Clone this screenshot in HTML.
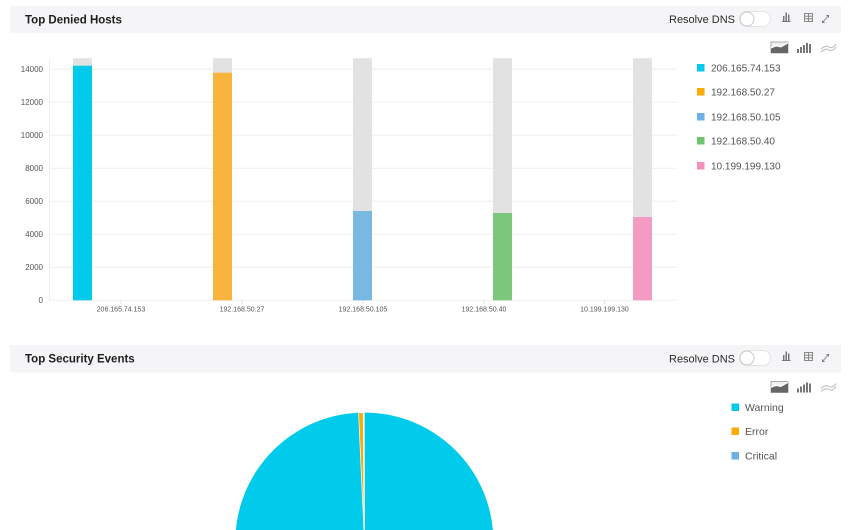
<!DOCTYPE html>
<html>
<head>
<meta charset="utf-8">
<style>
html,body{margin:0;padding:0;background:#fff;}
body{width:850px;height:530px;overflow:hidden;}
svg{display:block;}
text{font-family:"Liberation Sans",sans-serif;}
</style>
</head>
<body>
<svg width="850" height="530" viewBox="0 0 850 530" xmlns="http://www.w3.org/2000/svg">
  <!-- ===== Section 1 header ===== -->
  <rect x="10" y="6" width="831" height="27" fill="#f5f5f7"/>
  <text x="25" y="23.5" font-size="11.5" font-weight="bold" fill="#1e1e1e">Top Denied Hosts</text>
  <text x="669" y="23" font-size="11" fill="#2a2a2a">Resolve DNS</text>
  <rect x="739.5" y="11.5" width="31" height="15" rx="7.5" fill="#fff" stroke="#e4e4e4"/>
  <circle cx="747" cy="19" r="7" fill="#fff" stroke="#c8c8c8"/>
  <g fill="#777">
    <rect x="783" y="16" width="1.5" height="5"/>
    <rect x="785.5" y="12.5" width="1.5" height="8.5"/>
    <rect x="788" y="14.5" width="1.5" height="6.5"/>
    <rect x="782" y="21" width="8.5" height="1"/>
  </g>
  <g fill="none" stroke="#888" stroke-width="1">
    <rect x="804.5" y="13.5" width="8" height="8"/>
    <line x1="804.5" y1="16.2" x2="812.5" y2="16.2"/>
    <line x1="804.5" y1="18.8" x2="812.5" y2="18.8"/>
    <line x1="808.5" y1="13.5" x2="808.5" y2="21.5"/>
  </g>
  <g fill="#777">
    <polygon points="826,15 829,15 829,18"/>
    <polygon points="822,20 822,23 825,23"/>
    <line x1="823" y1="22" x2="828" y2="16" stroke="#999" stroke-width="1"/>
  </g>
  <g>
    <rect x="771" y="42" width="17" height="11" fill="#f0f0f0" stroke="#999" stroke-width="0.8"/>
    <polygon points="771,53 771,48 776,46 781,47 788,43 788,53" fill="#666"/>
    <polygon points="771,47 776,45 781,46 788,42 788,43.5 781,47.5 776,46.5 771,48.5" fill="#fff"/>
  </g>
  <g fill="#777">
    <rect x="797" y="49" width="2" height="4"/>
    <rect x="800" y="47" width="2" height="6"/>
    <rect x="803" y="45" width="2" height="8"/>
    <rect x="806" y="43" width="2" height="10"/>
    <rect x="809" y="44" width="2" height="9"/>
  </g>
  <g fill="none" stroke="#c4c4c4" stroke-width="1.2">
    <path d="M821,49 Q825,45 829,47 T836,44"/>
    <path d="M821,52 Q825,48 829,50 T836,47"/>
  </g>

  <!-- gridlines -->
  <g stroke="#efefef" stroke-width="1">
    <line x1="49" y1="300.3" x2="677" y2="300.3"/>
    <line x1="49" y1="267.3" x2="677" y2="267.3"/>
    <line x1="49" y1="234.3" x2="677" y2="234.3"/>
    <line x1="49" y1="201.3" x2="677" y2="201.3"/>
    <line x1="49" y1="168.3" x2="677" y2="168.3"/>
    <line x1="49" y1="135.3" x2="677" y2="135.3"/>
    <line x1="49" y1="102.3" x2="677" y2="102.3"/>
    <line x1="49" y1="69.3" x2="677" y2="69.3"/>
    <line x1="49.5" y1="58" x2="49.5" y2="300.3"/>
  </g>
  <g stroke="#e2e2e2" stroke-width="1">
    <line x1="121" y1="300.3" x2="121" y2="304"/>
    <line x1="242" y1="300.3" x2="242" y2="304"/>
    <line x1="363" y1="300.3" x2="363" y2="304"/>
    <line x1="484" y1="300.3" x2="484" y2="304"/>
    <line x1="604.5" y1="300.3" x2="604.5" y2="304"/>
  </g>
  <g font-size="8" fill="#555" text-anchor="end">
    <text x="43" y="303">0</text>
    <text x="43" y="270">2000</text>
    <text x="43" y="237">4000</text>
    <text x="43" y="204">6000</text>
    <text x="43" y="171">8000</text>
    <text x="43" y="138">10000</text>
    <text x="43" y="105">12000</text>
    <text x="43" y="72">14000</text>
  </g>
  <g fill="#e2e2e2">
    <rect x="73" y="58.3" width="19" height="242"/>
    <rect x="213" y="58.3" width="19" height="242"/>
    <rect x="353" y="58.3" width="19" height="242"/>
    <rect x="493" y="58.3" width="19" height="242"/>
    <rect x="633" y="58.3" width="19" height="242"/>
  </g>
  <rect x="73" y="65.7" width="19" height="234.6" fill="#00cbea"/>
  <rect x="213" y="72.7" width="19" height="227.6" fill="#f8b43c"/>
  <rect x="353" y="211" width="19" height="89.3" fill="#7ab8e4"/>
  <rect x="493" y="213" width="19" height="87.3" fill="#7cc77b"/>
  <rect x="633" y="217" width="19" height="83.3" fill="#f39bc3"/>
  <g font-size="7" fill="#555" text-anchor="middle">
    <text x="121" y="311.5">206.165.74.153</text>
    <text x="242" y="311.5">192.168.50.27</text>
    <text x="363" y="311.5">192.168.50.105</text>
    <text x="484" y="311.5">192.168.50.40</text>
    <text x="604.5" y="311.5">10.199.199.130</text>
  </g>
  <g font-size="10" fill="#555">
    <rect x="697" y="64" width="7.5" height="7.5" fill="#00cbea"/>
    <text x="711" y="71.3">206.165.74.153</text>
    <rect x="697" y="88" width="7.5" height="7.5" fill="#ffaa00"/>
    <text x="711" y="95.3">192.168.50.27</text>
    <rect x="697" y="113" width="7.5" height="7.5" fill="#6cb0e6"/>
    <text x="711" y="120.3">192.168.50.105</text>
    <rect x="697" y="137" width="7.5" height="7.5" fill="#6fc46f"/>
    <text x="711" y="144.3">192.168.50.40</text>
    <rect x="697" y="162" width="7.5" height="7.5" fill="#f48fbd"/>
    <text x="711" y="169.3">10.199.199.130</text>
  </g>

  <!-- ===== Section 2 header ===== -->
  <rect x="10" y="345" width="831" height="27.5" fill="#f5f5f7"/>
  <text x="25" y="362.5" font-size="11.5" font-weight="bold" fill="#1e1e1e">Top Security Events</text>
  <text x="669" y="362.3" font-size="11" fill="#2a2a2a">Resolve DNS</text>
  <rect x="739.5" y="350.5" width="31" height="15" rx="7.5" fill="#fff" stroke="#e4e4e4"/>
  <circle cx="747" cy="358" r="7" fill="#fff" stroke="#c8c8c8"/>
  <g fill="#777">
    <rect x="783" y="355" width="1.5" height="5"/>
    <rect x="785.5" y="351.5" width="1.5" height="8.5"/>
    <rect x="788" y="353.5" width="1.5" height="6.5"/>
    <rect x="782" y="360" width="8.5" height="1"/>
  </g>
  <g fill="none" stroke="#888" stroke-width="1">
    <rect x="804.5" y="352.5" width="8" height="8"/>
    <line x1="804.5" y1="355.2" x2="812.5" y2="355.2"/>
    <line x1="804.5" y1="357.8" x2="812.5" y2="357.8"/>
    <line x1="808.5" y1="352.5" x2="808.5" y2="360.5"/>
  </g>
  <g fill="#777">
    <polygon points="826,354 829,354 829,357"/>
    <polygon points="822,359 822,362 825,362"/>
    <line x1="823" y1="361" x2="828" y2="355" stroke="#999" stroke-width="1"/>
  </g>
  <g>
    <rect x="771" y="381.5" width="17" height="11" fill="#f0f0f0" stroke="#999" stroke-width="0.8"/>
    <polygon points="771,392.5 771,387.5 776,385.5 781,386.5 788,382.5 788,392.5" fill="#666"/>
    <polygon points="771,386.5 776,384.5 781,385.5 788,381.5 788,383 781,387 776,386 771,388" fill="#fff"/>
  </g>
  <g fill="#777">
    <rect x="797" y="388.5" width="2" height="4"/>
    <rect x="800" y="386.5" width="2" height="6"/>
    <rect x="803" y="384.5" width="2" height="8"/>
    <rect x="806" y="382.5" width="2" height="10"/>
    <rect x="809" y="383.5" width="2" height="9"/>
  </g>
  <g fill="none" stroke="#c4c4c4" stroke-width="1.2">
    <path d="M821,388.5 Q825,384.5 829,386.5 T836,383.5"/>
    <path d="M821,391.5 Q825,387.5 829,389.5 T836,386.5"/>
  </g>

  <!-- pie segment above y=530 (circle center 364.4,541.6 r129) -->
  <path d="M235.92,530 A129,129 0 0 1 492.88,530 Z" fill="#00cbeb"/>
  <path d="M363.9,530 L358.55,412.73 A129,129 0 0 1 363.27,412.6 Z" fill="#ffaa00" stroke="#fff" stroke-width="0.7"/>
  <line x1="364.4" y1="530" x2="364.1" y2="412.6" stroke="#fff" stroke-width="1"/>

  <g font-size="10.5" fill="#555">
    <rect x="731.5" y="403.5" width="7.5" height="7.5" fill="#00cbea"/>
    <text x="745" y="411">Warning</text>
    <rect x="731.5" y="427.5" width="7.5" height="7.5" fill="#ffaa00"/>
    <text x="745" y="435">Error</text>
    <rect x="731.5" y="452" width="7.5" height="7.5" fill="#6cb0e6"/>
    <text x="745" y="459.5">Critical</text>
  </g>
</svg>
</body>
</html>
